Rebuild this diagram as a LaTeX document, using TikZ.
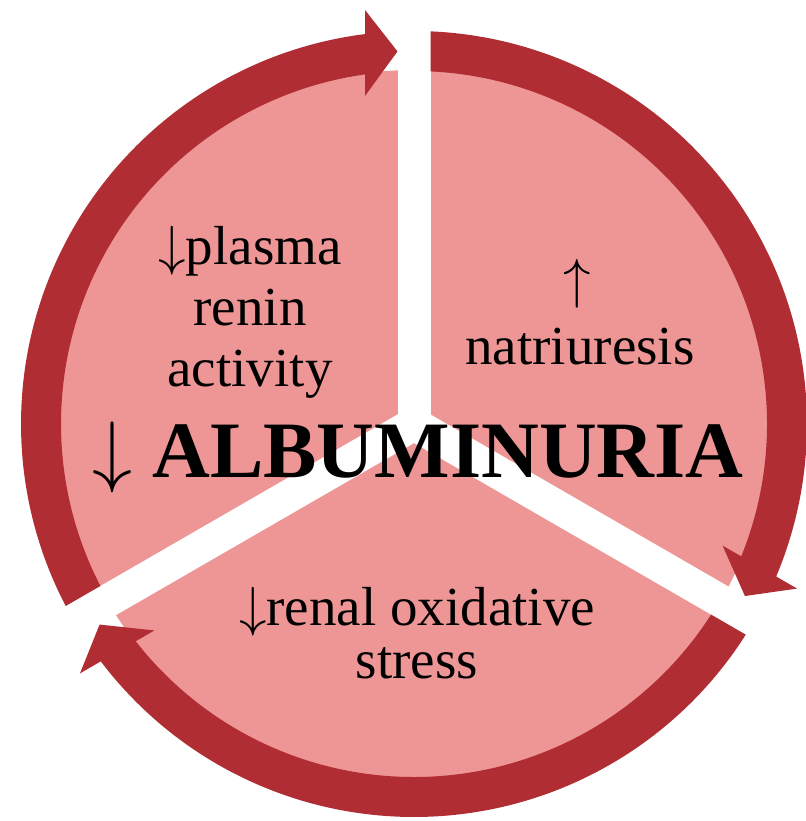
\RequirePackage{fix-cm}
\documentclass[tikz,border=0pt]{standalone}
\usepackage{fontspec}
\setmainfont{Liberation Serif}
\usepackage{tikz}
\definecolor{ringred}{RGB}{176, 46, 51}
\definecolor{sectorpink}{RGB}{238, 150, 150}
\tikzset{
  lbl/.style={font=\fontsize{55}{61}\selectfont, align=center, text=black},
  bigword/.style={font=\fontsize{80}{84}\selectfont\bfseries, text=black}
}

\begin{document}
\begin{tikzpicture}[x=1pt,y=1pt]
        \useasboundingbox (-414,-397) rectangle (391,424);

        % Sectors
        \fill[sectorpink] (0,0) circle[radius=354pt];

        % Gaps between sectors
        \foreach \r in {0,-120,-240} {
          \fill[white, rotate=\r] (-16.5,0) -- (16.5,0) -- (16.5,440) -- (-16.5,440) -- cycle;
        }

        % Cycle arrows, clockwise
        \foreach \r in {0,-120,-240} {
          \begin{scope}[rotate=\r]
            \fill[ringred] (207.32:353pt) -- (207.59:393pt)
              arc[start angle=207.59, end angle=97.16, radius=393pt]
              -- (-49,414) -- (-16.5,372.6) -- (-49,328) -- (-49,349.6)
              arc[start angle=97.98, end angle=207.32, radius=353pt] -- cycle;
          \end{scope}
        }

        % Labels (base is the last line)
        \node[lbl, anchor=base] (renin) at (-164,37) {$\downarrow$plasma\\renin\\activity};
        \node[lbl, anchor=base] (natri) at (166,59) {natriuresis};
        \node[lbl, anchor=base] (up) at (163,126) {$\uparrow$};
        \node[lbl, anchor=base] (stress) at (3,-254) {$\downarrow$renal oxidative\\[-8pt]stress};
        \node[bigword, anchor=base] (alb) at (4,-54) {$\downarrow$ ALBUMINURIA};
\end{tikzpicture}
\end{document}
